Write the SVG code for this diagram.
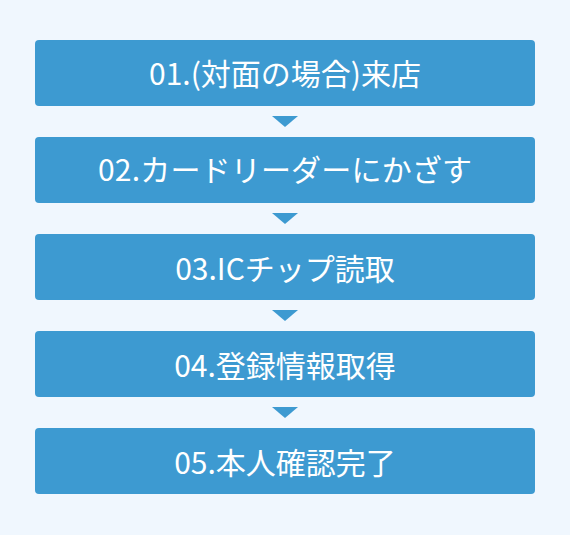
<svg xmlns="http://www.w3.org/2000/svg" width="570" height="535" viewBox="0 0 570 535">
<style>
.box{fill:#3d9ad1}
.lbl{fill:#ffffff;font-family:"Noto Sans CJK JP","Noto Sans",sans-serif;font-size:30px;text-anchor:middle}
.tri{fill:#3d9ad1}
</style>
<rect x="0" y="0" width="570" height="535" fill="#f0f7fe"/>
<g id="connectors">
<polygon class="tri" points="272,116 298,116 285,127"/>
<polygon class="tri" points="272,213 298,213 285,224"/>
<polygon class="tri" points="272,310 298,310 285,321"/>
<polygon class="tri" points="272,407 298,407 285,418"/>
</g>
<g id="step1"><rect class="box" x="35" y="40" width="500" height="66" rx="4"/><text class="lbl" x="285" y="84.5">01.(対面の場合)来店</text></g>
<g id="step2"><rect class="box" x="35" y="137" width="500" height="66" rx="4"/><text class="lbl" x="285" y="180.5" textLength="374" lengthAdjust="spacing">02.カードリーダーにかざす</text></g>
<g id="step3"><rect class="box" x="35" y="234" width="500" height="66" rx="4"/><text class="lbl" x="285" y="279.5">03.ICチップ読取</text></g>
<g id="step4"><rect class="box" x="35" y="331" width="500" height="66" rx="4"/><text class="lbl" x="285" y="376.5">04.登録情報取得</text></g>
<g id="step5"><rect class="box" x="35" y="428" width="500" height="66" rx="4"/><text class="lbl" x="285" y="473.5">05.本人確認完了</text></g>
</svg>
